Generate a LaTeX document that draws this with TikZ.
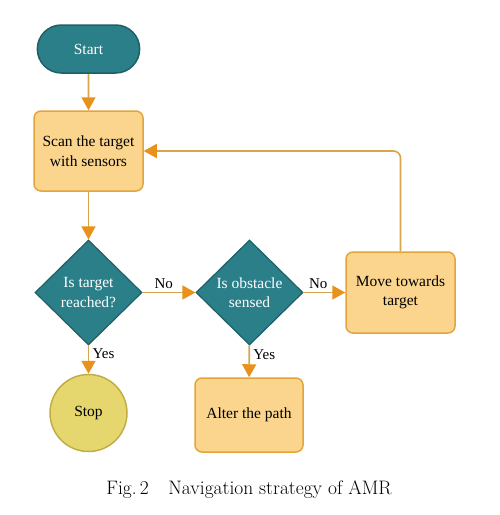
\documentclass[tikz,border=0pt]{standalone}
\usepackage{fontspec}
\newfontfamily\tnr{Liberation Serif}
\usetikzlibrary{arrows.meta,shapes.geometric,shapes.misc}
\definecolor{teal1}{HTML}{2A7F88}
\definecolor{teal2}{HTML}{1F5F66}
\definecolor{box1}{HTML}{FBD58E}
\definecolor{box2}{HTML}{E3A53A}
\definecolor{stop1}{HTML}{E5D76E}
\definecolor{stop2}{HTML}{BFAE45}
\definecolor{line1}{HTML}{D8A44E}
\definecolor{head1}{HTML}{E8921C}
\begin{document}
\begin{tikzpicture}[x=1pt,y=-1pt,
  txt/.style={font=\tnr\fontsize{15.5}{19.5}\selectfont,align=center},
  term/.style={txt,rounded rectangle,draw=teal2,fill=teal1,text=white,line width=1.5pt,minimum width=109pt,minimum height=48pt},
  procbox/.style={txt,rectangle,rounded corners=7pt,draw=box2,fill=box1,line width=1.5pt,minimum width=109pt,inner sep=2pt},
  decide/.style={txt,diamond,draw=teal2,fill=teal1,text=white,line width=1.2pt,minimum width=107pt,minimum height=105pt,inner sep=0pt},
  stopc/.style={txt,circle,draw=stop2,fill=stop1,line width=1.5pt,minimum size=77pt},
  conn/.style={draw=line1,line width=1.6pt,-{Triangle[length=13pt,width=14pt,color=head1]}},
  lab/.style={font=\tnr\fontsize{15}{17}\selectfont}
]
\useasboundingbox (0,0) rectangle (500,515);
\node[term] (start) at (88.5,49) {Start};
\node[procbox,minimum height=80pt] (scan) at (88.5,151) {Scan the target\\with sensors};
\node[decide] (d1) at (88.5,292.5) {Is target\\reached?};
\node[decide] (d2) at (249.5,292.5) {Is obstacle\\sensed};
\node[procbox,minimum height=81pt] (move) at (400.5,292.5) {Move towards\\target};
\node[stopc] (stop) at (88.5,413) {Stop};
\node[procbox,minimum height=74pt,minimum width=108pt] (alter) at (249,415) {Alter the path};
\draw[conn] (start) -- (scan);
\draw[conn] (scan) -- (d1);
\draw[conn] (d1) -- node[lab,above,pos=0.4] {No} (d2);
\draw[conn] (d2) -- node[lab,above,pos=0.35] {No} (move);
\draw[conn] (d1) -- node[lab,right,pos=0.3] {Yes} (stop);
\draw[conn] (d2) -- node[lab,right,pos=0.3] {Yes} (alter);
\draw[conn,rounded corners=7pt] (move.north) -- (move.north |- scan.east) -- (scan.east);
\node[font=\fontsize{19.5}{23}\selectfont] (cap) at (249,490) {Fig.\,2\quad Navigation strategy of AMR};
\end{tikzpicture}
\end{document}
